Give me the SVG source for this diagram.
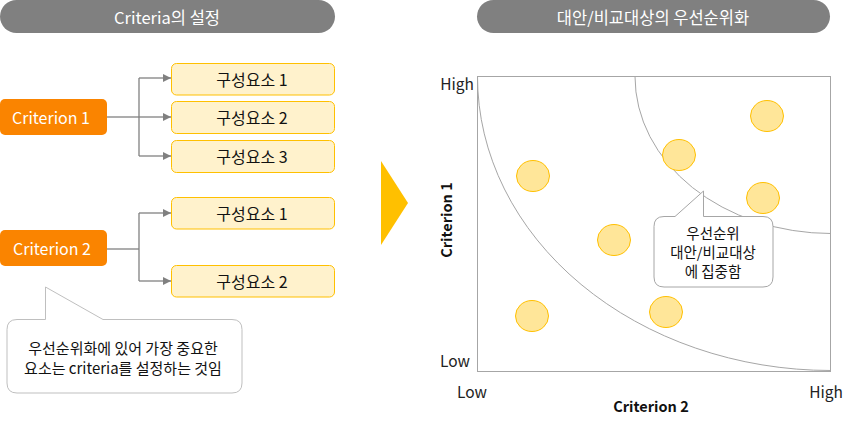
<svg xmlns="http://www.w3.org/2000/svg" width="861" height="424" viewBox="0 0 861 424">
<style>
text{font-family:"Noto Sans CJK KR","Liberation Sans",sans-serif;}
.hdr{fill:#808080;}
.hdrt{fill:#fff;font-size:16.5px;text-anchor:middle;dominant-baseline:central;}
.crit{fill:#FA8400;}
.critt{fill:#fff;font-size:16px;text-anchor:middle;dominant-baseline:central;}
.comp{fill:#FFF2CC;stroke:#FFC000;stroke-width:1;}
.compt{fill:#111;font-size:16px;text-anchor:middle;dominant-baseline:central;}
.conn{fill:none;stroke:#808080;stroke-width:1.3;}
.dot{fill:#FFE699;stroke:#FFC000;stroke-width:1;}
.call{fill:#fff;stroke:#BFBFBF;stroke-width:1;}
.callt{fill:#111;font-size:15px;text-anchor:middle;dominant-baseline:central;}
.callt2{fill:#111;font-size:14.5px;text-anchor:middle;dominant-baseline:central;}
.ax{fill:#222;font-size:15.5px;dominant-baseline:central;}
.axb{fill:#111;font-size:14.5px;font-weight:bold;text-anchor:middle;dominant-baseline:central;}
.curve{fill:none;stroke:#A6A6A6;stroke-width:1;}
</style>
<defs>
<marker id="ah" viewBox="0 0 10 10" refX="10" refY="5" markerWidth="8" markerHeight="8" markerUnits="userSpaceOnUse" orient="auto">
<path d="M0,0 L10,5 L0,10 Z" fill="#808080"/>
</marker>
</defs>

<g id="header-left">
<rect class="hdr" x="0" y="0" width="335" height="33" rx="16.5"/>
<text class="hdrt" x="167" y="17">Criteria의 설정</text>
</g>
<g id="header-right">
<rect class="hdr" x="477" y="0" width="353" height="33" rx="16.5"/>
<text class="hdrt" x="653" y="17">대안/비교대상의 우선순위화</text>
</g>

<g id="connectors">
<path class="conn" d="M107,117 H139"/>
<path class="conn" d="M139,78 V156"/>
<path class="conn" d="M139,78 H171" marker-end="url(#ah)"/>
<path class="conn" d="M139,117 H171" marker-end="url(#ah)"/>
<path class="conn" d="M139,156 H171" marker-end="url(#ah)"/>
<path class="conn" d="M107,249 H139"/>
<path class="conn" d="M139,213 V281"/>
<path class="conn" d="M139,213 H171" marker-end="url(#ah)"/>
<path class="conn" d="M139,281 H171" marker-end="url(#ah)"/>
</g>

<g id="criterion1">
<rect class="crit" x="0" y="99" width="107" height="36" rx="5"/>
<text class="critt" x="51" y="117">Criterion 1</text>
</g>
<g id="c1-comp1">
<rect class="comp" x="171.5" y="63.5" width="163" height="31.5" rx="5"/>
<text class="compt" x="252" y="79">구성요소 1</text>
</g>
<g id="c1-comp2">
<rect class="comp" x="171.5" y="101.5" width="163" height="32" rx="5"/>
<text class="compt" x="252" y="117">구성요소 2</text>
</g>
<g id="c1-comp3">
<rect class="comp" x="171.5" y="140.5" width="163" height="32" rx="5"/>
<text class="compt" x="252" y="156">구성요소 3</text>
</g>

<g id="criterion2">
<rect class="crit" x="0" y="230" width="107" height="36" rx="5"/>
<text class="critt" x="52" y="248">Criterion 2</text>
</g>
<g id="c2-comp1">
<rect class="comp" x="171.5" y="197.5" width="163" height="31.5" rx="5"/>
<text class="compt" x="252" y="213">구성요소 1</text>
</g>
<g id="c2-comp2">
<rect class="comp" x="171.5" y="265.5" width="163" height="31.5" rx="5"/>
<text class="compt" x="252" y="281">구성요소 2</text>
</g>

<g id="callout-left">
<path class="call" d="M17,319.5 H45.5 V287 L103,319.5 H232 Q242,319.5 242,329.5 V383 Q242,393 232,393 H17 Q7,393 7,383 V329.5 Q7,319.5 17,319.5 Z"/>
<text class="callt" x="123" y="347">우선순위화에 있어 가장 중요한</text>
<text class="callt" x="123" y="367">요소는 criteria를 설정하는 것임</text>
</g>

<g id="big-arrow">
<path d="M381,161 L408,203 L381,245 Z" fill="#FFC000"/>
</g>

<g id="chart">
<rect x="477.5" y="76.5" width="353" height="295" fill="#fff" stroke="#A6A6A6" stroke-width="1"/>
<path class="curve" d="M477.5,76.5 A353.5,294 0 0 0 831,370.5"/>
<path class="curve" d="M635,76.5 A196,157 0 0 0 831,233.5"/>
<text class="ax" x="474" y="83" text-anchor="end">High</text>
<text class="ax" x="470" y="360" text-anchor="end">Low</text>
<text class="ax" x="472" y="391" text-anchor="middle">Low</text>
<text class="ax" x="826" y="391" text-anchor="middle">High</text>
<text class="axb" x="651" y="405">Criterion 2</text>
<text class="axb" transform="translate(445,220) rotate(-90)" x="0" y="0">Criterion 1</text>
</g>

<g id="dots">
<ellipse class="dot" cx="533" cy="176" rx="16.5" ry="15.5"/>
<ellipse class="dot" cx="679" cy="155" rx="16.5" ry="15.5"/>
<ellipse class="dot" cx="767" cy="116" rx="16.5" ry="15.5"/>
<ellipse class="dot" cx="763" cy="198" rx="16.5" ry="15.5"/>
<ellipse class="dot" cx="614" cy="240" rx="16.5" ry="15.5"/>
<ellipse class="dot" cx="532" cy="316" rx="16.5" ry="15.5"/>
<ellipse class="dot" cx="666" cy="312" rx="16.5" ry="15.5"/>
</g>

<g id="callout-chart">
<path d="M664,216.5 H675 L703.5,191 V216.5 H763 Q773,216.5 773,226.5 V277 Q773,287 763,287 H664 Q654,287 654,277 V226.5 Q654,216.5 664,216.5 Z" fill="#fff" stroke="#A6A6A6" stroke-width="1"/>
<text class="callt2" x="713" y="232">우선순위</text>
<text class="callt2" x="713" y="251">대안/비교대상</text>
<text class="callt2" x="713" y="270">에 집중함</text>
</g>
</svg>
